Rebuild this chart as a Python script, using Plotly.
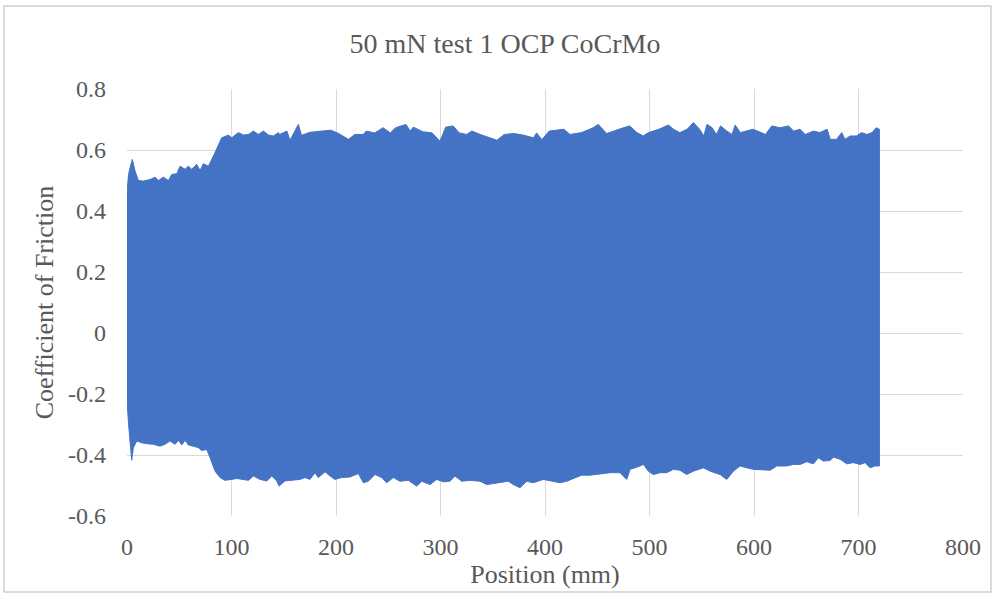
import plotly.graph_objects as go

# ---------------- data ----------------
title_text = "50 mN test 1 OCP CoCrMo"
x_title = "Position (mm)"
y_title = "Coefficient of Friction"

# Upper envelope of the oscillating friction signal
upper_pos = [0, 1.5, 2.9, 5.1, 7.7, 10.9, 15.7, 22.1, 26.8, 30.0, 34.8, 39.6, 42.8,
             47.6, 50.8, 55.6, 58.7, 61.9, 66.7, 69.9, 73.1, 77.9, 82.7, 87.4, 90.6,
             97.0, 100.2, 106.6, 111.4, 116.2, 121.0, 125.7, 130.5, 135.3, 140.1, 144.9,
             146, 153, 156, 164, 167, 175, 185, 195, 202, 212, 218, 226, 229, 237, 245,
             252, 257, 267, 271, 274, 283, 292, 299.5, 305, 312, 318, 325, 330, 338, 347,
             354, 361, 370, 379, 389, 392, 397, 404, 411, 418,
             424, 435, 446, 451, 459, 470, 475, 481, 488, 494, 499, 509, 518, 523, 529,
             536, 542, 548, 552, 555, 560, 564, 568, 574, 579, 582, 587, 599, 611, 617,
             625, 633, 638, 644, 649, 657, 663, 670, 673, 679, 684, 687, 692, 698, 703,
             708, 713, 717, 720]
upper_cof = [0.46, 0.52, 0.542, 0.569, 0.531, 0.500, 0.498, 0.503, 0.511, 0.500, 0.511, 0.500, 0.520,
             0.522, 0.547, 0.537, 0.547, 0.537, 0.553, 0.533, 0.555, 0.547, 0.580, 0.618, 0.640,
             0.649, 0.640, 0.657, 0.649, 0.651, 0.662, 0.651, 0.662, 0.649, 0.646, 0.657,
             0.651, 0.662, 0.632, 0.684, 0.648, 0.658, 0.662, 0.665, 0.655, 0.635, 0.651, 0.651, 0.662, 0.656, 0.673,
             0.656, 0.673, 0.684, 0.662, 0.675, 0.660, 0.656, 0.629, 0.675, 0.679, 0.656, 0.651, 0.662, 0.651, 0.640,
             0.632, 0.651, 0.654, 0.649, 0.640, 0.656, 0.634, 0.662, 0.666, 0.668,
             0.651, 0.657, 0.673, 0.684, 0.654, 0.668, 0.673, 0.679, 0.657, 0.646, 0.657, 0.668, 0.682, 0.668, 0.657,
             0.668, 0.690, 0.668, 0.646, 0.684, 0.673, 0.651, 0.679, 0.662, 0.651, 0.682, 0.657, 0.668, 0.651, 0.679,
             0.673, 0.679, 0.662, 0.668, 0.651, 0.662, 0.657, 0.668, 0.635, 0.635, 0.657, 0.635, 0.646, 0.646, 0.657,
             0.651, 0.657, 0.673, 0.668]

# Lower envelope of the oscillating friction signal
lower_pos = [0, 1.5, 3.0, 4.5, 6.1, 9.3, 14.1, 18.9, 25.2, 31.6, 36.4, 41.2, 46.0, 49.2, 52.4,
             55.6, 58.7, 63.5, 68.3, 71.5, 76.3, 79.5, 84.3, 89.0, 93.8, 100.2, 105.0, 111.4,
             116.2, 121.0, 127.3, 133.7, 138.5, 143.3, 145.5, 151.2, 157.6, 165.5, 170.3, 175.1,
             179.9, 183.1, 189.5, 194.3, 199.0, 205.4, 213.4, 221.4, 226.2, 230.9, 237.3, 243.7,
             248.5, 254.9, 261.2, 269.2, 277.2, 282.0, 290.0, 296.3, 302.7, 309.1, 313.9, 320.3,
             328.2, 337.8, 344.2, 353.8, 364.9, 369.7, 376.1, 382.5, 388.8, 398.4, 406.4, 414.4,
             420.8, 427.2, 435.1, 443.1, 452.7, 462.3, 471.8, 478.2, 481.4, 487.8, 494.2, 498.9,
             503.7, 510.1, 516.5, 522.9, 529.2, 535.6, 542.0, 551.6, 558.0, 567.5, 573.9, 580.3,
             586.7, 593.0, 599.4, 605.8, 615.4, 621.8, 631.3, 637.7, 644.1, 650.5, 656.8, 661.6,
             666.4, 672.8, 676.0, 682.4, 688.7, 695.1, 701.5, 706.3, 711.1, 715.9, 720.0]
lower_cof = [-0.22, -0.30, -0.37, -0.417, -0.376, -0.354, -0.360, -0.363, -0.365, -0.371, -0.365, -0.354, -0.365, -0.352, -0.367,
             -0.352, -0.367, -0.371, -0.376, -0.385, -0.382, -0.409, -0.453, -0.474, -0.483, -0.480, -0.477, -0.480,
             -0.483, -0.469, -0.480, -0.485, -0.469, -0.485, -0.502, -0.485, -0.483, -0.480, -0.474, -0.480,
             -0.458, -0.474, -0.455, -0.469, -0.480, -0.474, -0.472, -0.461, -0.491, -0.486, -0.464, -0.474,
             -0.491, -0.474, -0.486, -0.483, -0.502, -0.486, -0.497, -0.480, -0.488, -0.486, -0.469, -0.486,
             -0.483, -0.486, -0.497, -0.491, -0.486, -0.497, -0.507, -0.486, -0.491, -0.480, -0.486, -0.491,
             -0.486, -0.477, -0.466, -0.466, -0.461, -0.458, -0.458, -0.480, -0.447, -0.440, -0.431, -0.453,
             -0.464, -0.458, -0.458, -0.447, -0.450, -0.464, -0.453, -0.442, -0.453, -0.464, -0.480, -0.453,
             -0.436, -0.442, -0.447, -0.447, -0.450, -0.436, -0.436, -0.431, -0.431, -0.422, -0.429, -0.409,
             -0.420, -0.418, -0.407, -0.414, -0.429, -0.425, -0.431, -0.425, -0.442, -0.436, -0.436]

x_ticks = [0, 100, 200, 300, 400, 500, 600, 700, 800]
x_tick_labels = ["0", "100", "200", "300", "400", "500", "600", "700", "800"]
y_ticks = [-0.6, -0.4, -0.2, 0, 0.2, 0.4, 0.6, 0.8]
y_tick_labels = ["-0.6", "-0.4", "-0.2", "0", "0.2", "0.4", "0.6", "0.8"]

# ---------------- figure ----------------
BLUE = "#4472C4"
GRID = "#d9d9d9"
TXT = "#595959"
FONT = "Liberation Serif, Times New Roman, serif"

band_x = list(upper_pos) + list(reversed(lower_pos))
band_y = list(upper_cof) + list(reversed(lower_cof))

fig = go.Figure()
fig.add_trace(go.Scatter(
    x=band_x, y=band_y, mode="lines", fill="toself",
    fillcolor=BLUE, line=dict(color=BLUE, width=1),
    hoverinfo="skip", showlegend=False,
))

fig.update_layout(
    width=996, height=595,
    margin=dict(l=127, r=33, t=89, b=79),
    paper_bgcolor="white", plot_bgcolor="white",
    font=dict(family=FONT, color=TXT),
    title=dict(text=title_text, x=505 / 996, xanchor="center",
               y=1 - 43 / 595, yanchor="middle",
               font=dict(family=FONT, size=28, color=TXT)),
    showlegend=False,
)
fig.update_xaxes(
    range=[0, 800], tickvals=x_ticks, ticktext=x_tick_labels,
    showgrid=True, gridcolor=GRID, gridwidth=1, zeroline=False, showline=False,
    ticks="", ticklabelstandoff=14,
    tickfont=dict(family=FONT, size=24, color=TXT),
    title=dict(text=x_title, font=dict(family=FONT, size=26, color=TXT), standoff=0),
)
fig.update_yaxes(
    range=[-0.6, 0.8], tickvals=y_ticks, ticktext=y_tick_labels,
    showgrid=True, gridcolor=GRID, gridwidth=1, zeroline=False, showline=False,
    ticks="", ticklabelstandoff=20,
    tickfont=dict(family=FONT, size=24, color=TXT),
    title=dict(text=y_title, font=dict(family=FONT, size=26, color=TXT), standoff=6),
)

# outer chart-area border
fig.add_shape(type="rect", xref="paper", yref="paper",
              x0=(4 - 127) / 836, x1=(991 - 127) / 836,
              y0=(516 - 592) / 427, y1=(516 - 6) / 427,
              line=dict(color="#d0d0d0", width=1.5), layer="below")

fig.write_html("out.html")
